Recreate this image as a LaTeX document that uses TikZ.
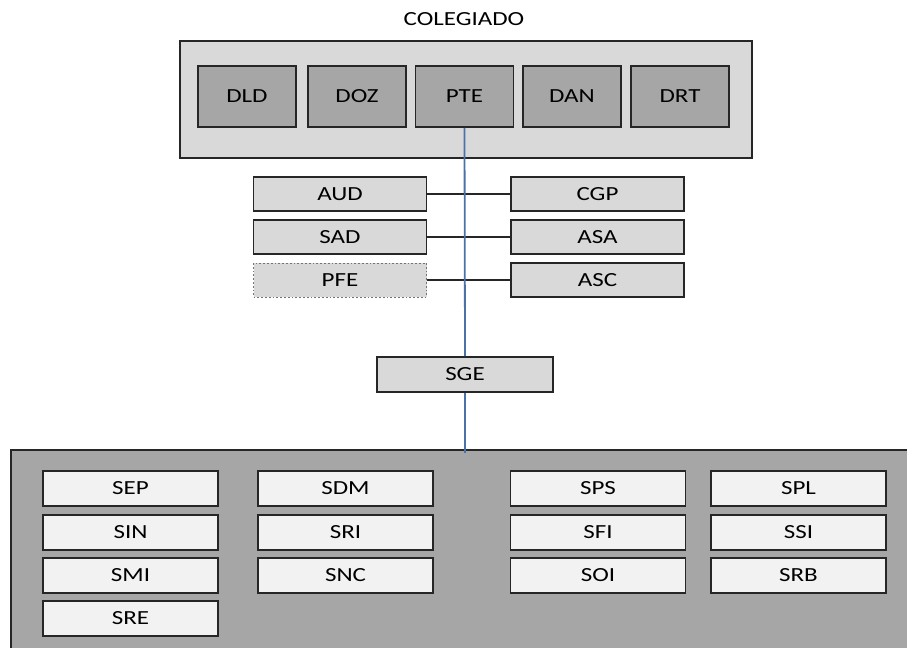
\documentclass[tikz,border=0pt]{standalone}
\usepackage{fontspec}
\newfontfamily\orgfont{Carlito}[FakeStretch=1.25]
\usepackage{tikz}

\definecolor{paneGray}{HTML}{D9D9D9}
\definecolor{seatGray}{HTML}{A6A6A6}
\definecolor{cellGray}{HTML}{F2F2F2}
\definecolor{edgeGray}{HTML}{262626}
\definecolor{linkBlue}{HTML}{4A72A8}

\tikzset{
  every node/.style={font=\orgfont\fontsize{20}{24}\selectfont, text=black, inner sep=0pt},
  seat/.style={draw=edgeGray, fill=seatGray, line width=1.8pt, minimum width=98, minimum height=61},
  staff/.style={draw=edgeGray, fill=paneGray, line width=1.8pt, minimum width=173, minimum height=34},
  cell/.style={draw=edgeGray, fill=cellGray, line width=1.8pt, minimum width=175, minimum height=35}
}

\begin{document}
\begin{tikzpicture}[x=1pt,y=-1pt]
\useasboundingbox (0,0) rectangle (907,648);
% top: board
\node (board) at (464,19) {COLEGIADO};
\node[draw=edgeGray, fill=paneGray, line width=1.8pt, minimum width=572, minimum height=117] (plenum) at (466,99.5) {};
\node[seat] (dld) at (247,96.5) {DLD};
\node[seat] (doz) at (357,96.5) {DOZ};
\node[seat] (pte) at (464.5,96.5) {PTE};
\node[seat] (dan) at (572,96.5) {DAN};
\node[seat] (drt) at (680,96.5) {DRT};
% advisory units
\node[staff] (aud) at (340,194) {AUD};
\node[staff] (sad) at (340,237) {SAD};
\node[staff, draw=black!55, dotted, line width=1pt] (pfe) at (340,280) {PFE};
\node[staff] (cgp) at (597.5,194) {CGP};
\node[staff] (asa) at (597.5,237) {ASA};
\node[staff] (asc) at (597.5,280) {ASC};
\draw[edgeGray, line width=1.4pt] (aud.east) -- (cgp.west);
\draw[edgeGray, line width=1.4pt] (sad.east) -- (asa.west);
\draw[edgeGray, line width=1.4pt] (pfe.east) -- (asc.west);
\node[staff, minimum width=176, minimum height=35] (sge) at (465,374.5) {SGE};
% bottom: secretariats
\fill[seatGray] (11,450) rectangle (907,648);
\draw[edgeGray, line width=1.8pt] (11,648) -- (11,450) -- (907,450);
\coordinate (base) at (465,453);
\node[cell] (sep) at (130.5,488.5) {SEP};
\node[cell] (sin) at (130.5,532.5) {SIN};
\node[cell] (smi) at (130.5,575.5) {SMI};
\node[cell] (sre) at (130.5,618.5) {SRE};
\node[cell] (sdm) at (345.5,488.5) {SDM};
\node[cell] (sri) at (345.5,532.5) {SRI};
\node[cell] (snc) at (345.5,575.5) {SNC};
\node[cell] (sps) at (598,488.5) {SPS};
\node[cell] (sfi) at (598,532.5) {SFI};
\node[cell] (soi) at (598,575.5) {SOI};
\node[cell] (spl) at (798.5,488.5) {SPL};
\node[cell] (ssi) at (798.5,532.5) {SSI};
\node[cell] (srb) at (798.5,575.5) {SRB};
% main line
\draw[linkBlue, line width=1.8pt] (pte.south) -- (sge.north);
\draw[linkBlue, line width=1.8pt] (sge.south) -- (base);
\end{tikzpicture}
\end{document}
